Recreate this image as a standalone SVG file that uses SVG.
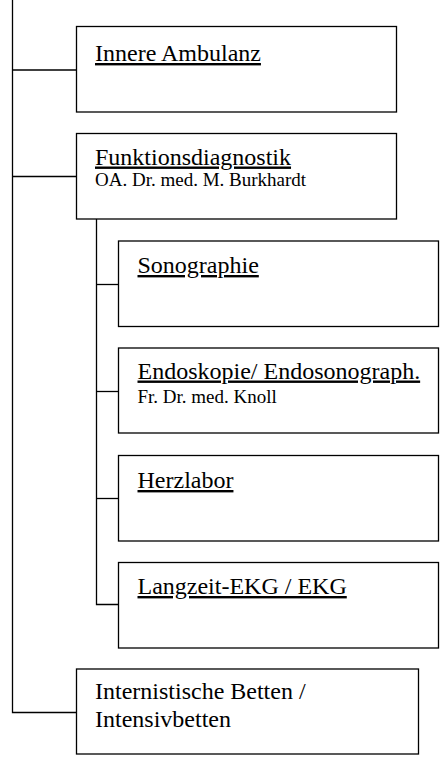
<svg xmlns="http://www.w3.org/2000/svg" width="441" height="758" viewBox="0 0 441 758">
  <style>
    .box { fill: #ffffff; stroke: #000000; stroke-width: 1.3; }
    .conn { fill: none; stroke: #000000; stroke-width: 1.3; }
    .title { font-family: "Liberation Serif", "Times New Roman", serif; font-size: 24px; fill: #000000; }
    .u { text-decoration: underline; }
    .sub { font-family: "Liberation Serif", "Times New Roman", serif; font-size: 19px; fill: #000000; }
  </style>
  <rect width="441" height="758" fill="#ffffff"/>

  <!-- tree lines -->
  <g id="connectors">
    <path class="conn" d="M12.5,0 V712.5 H76.5"/>
    <path class="conn" d="M12.5,70 H76.5"/>
    <path class="conn" d="M12.5,176.5 H76.5"/>
    <path class="conn" d="M96.5,219 V604.5 H118.5"/>
    <path class="conn" d="M96.5,284.5 H118.5"/>
    <path class="conn" d="M96.5,391.5 H118.5"/>
    <path class="conn" d="M96.5,498.5 H118.5"/>
  </g>

  <g id="innere-ambulanz">
    <rect class="box" x="76.5" y="26.5" width="320" height="85.5"/>
    <text class="title u" x="95" y="61">Innere Ambulanz</text>
  </g>

  <g id="funktionsdiagnostik">
    <rect class="box" x="76.5" y="133.5" width="320" height="85.5"/>
    <text class="title u" x="95" y="164.5">Funktionsdiagnostik</text>
    <text class="sub" x="95" y="186">OA. Dr. med. M. Burkhardt</text>
  </g>

  <g id="sonographie">
    <rect class="box" x="118.5" y="241" width="320" height="85.5"/>
    <text class="title u" x="137.5" y="273">Sonographie</text>
  </g>

  <g id="endoskopie">
    <rect class="box" x="118.5" y="348" width="320" height="85"/>
    <text class="title u" x="137.5" y="378.5">Endoskopie/ Endosonograph.</text>
    <text class="sub" x="137.5" y="402.5">Fr. Dr. med. Knoll</text>
  </g>

  <g id="herzlabor">
    <rect class="box" x="118.5" y="455.5" width="320" height="85.5"/>
    <text class="title u" x="137.5" y="488">Herzlabor</text>
  </g>

  <g id="langzeit-ekg">
    <rect class="box" x="118.5" y="562.5" width="320" height="85.5"/>
    <text class="title u" x="137.5" y="594">Langzeit-EKG / EKG</text>
  </g>

  <g id="internistische-betten">
    <rect class="box" x="76.5" y="669" width="342" height="85"/>
    <text class="title" x="95" y="699">Internistische Betten /</text>
    <text class="title" x="95" y="727">Intensivbetten</text>
  </g>
</svg>
